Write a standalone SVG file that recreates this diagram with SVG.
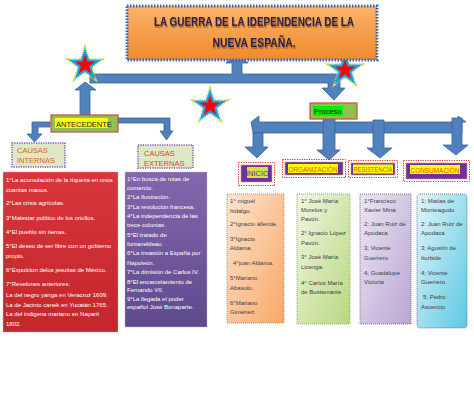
<svg xmlns="http://www.w3.org/2000/svg" width="474" height="420" viewBox="0 0 474 420">
<defs>
<linearGradient id="gTitle" x1="0" y1="0" x2="0" y2="1"><stop offset="0" stop-color="#fbb36a"/><stop offset="1" stop-color="#f08a2c"/></linearGradient>
<linearGradient id="gRed" x1="0" y1="0" x2="0" y2="1"><stop offset="0" stop-color="#d8363b"/><stop offset="1" stop-color="#c3262b"/></linearGradient>
<linearGradient id="gPur" x1="0" y1="0" x2="0" y2="1"><stop offset="0" stop-color="#8467ad"/><stop offset="1" stop-color="#5f4a8e"/></linearGradient>
<linearGradient id="gOr" x1="0" y1="0" x2="1" y2="1"><stop offset="0" stop-color="#fde4cf"/><stop offset="1" stop-color="#f9a865"/></linearGradient>
<linearGradient id="gGr" x1="0" y1="0" x2="1" y2="1"><stop offset="0" stop-color="#f0f6e2"/><stop offset="1" stop-color="#b8d880"/></linearGradient>
<linearGradient id="gLav" x1="0" y1="0" x2="1" y2="1"><stop offset="0" stop-color="#ece6f3"/><stop offset="1" stop-color="#b9a6d3"/></linearGradient>
<linearGradient id="gCy" x1="0" y1="0" x2="1" y2="1"><stop offset="0" stop-color="#e2f5fa"/><stop offset="1" stop-color="#5cc8e3"/></linearGradient>
<filter id="shadow" x="-10%" y="-30%" width="120%" height="170%">
<feDropShadow dx="0.6" dy="1.8" stdDeviation="0.4" flood-color="#7a4a20" flood-opacity="0.7"/>
</filter>
<g id="star">
<polygon points="0,-17 4,-5.5 16.2,-5.3 6.5,2.1 10,13.8 0,6.8 -10,13.8 -6.5,2.1 -16.2,-5.3 -4,-5.5" fill="none" stroke="#c6de5a" stroke-width="3" stroke-dasharray="1 1.2"/>
<polygon points="0,-14 3.29,-4.53 13.31,-4.33 5.33,1.73 8.23,11.33 0,5.6 -8.23,11.33 -5.33,1.73 -13.31,-4.33 -3.29,-4.53" fill="#ff0000" stroke="#1ea0e6" stroke-width="2.2" stroke-linejoin="miter"/>
</g>
</defs>
<style>
.arr{fill:#4f81bd;stroke:#3a6496;stroke-width:0.8}
.w{font-family:"Liberation Sans",Arial,sans-serif;font-size:6px;fill:#ffffff}
.d{font-family:"Liberation Sans",Arial,sans-serif;font-size:6px;fill:#404040}
.lab{font-family:"Liberation Sans",Arial,sans-serif;font-size:7.5px}
.dot{fill:none;stroke-dasharray:1.2 1.2}
.ttl{font-family:"Liberation Sans",Arial,sans-serif;font-weight:bold;font-size:13px;fill:#22204a}
</style>

<g id="connectors">
<polygon class="arr" points="90,74 232,74 232,63 226,63 237,54 248,63 242,63 242,74 340,74 340,88 345,88 334,100 322,88 328,88 328,83 90,83"/>
<polygon class="arr" points="80,115 80,90 75,90 85,82 96,90 90,90 90,115"/>
<polygon class="arr" points="50,122 32,122 32,134 27,134 34.5,142 42,134 38,134 38,127 50,127"/>
<polygon class="arr" points="118,118 170,118 170,131 173,131 166.5,140 160,131 164,131 164,123 118,123"/>
<polygon class="arr" points="251,122 259,116 259,122 458,122 458,116 466,122 462,122 462,133 253,133"/>
<polygon class="arr" points="253,133 263,133 263,147 268,147 257,158 245,147 253,147"/>
<polygon class="arr" points="323,115 335,115 335,150 340,150 329,160 317,150 323,150"/>
<polygon class="arr" points="373,120 384,120 384,148 392,148 380,158 367,148 373,148"/>
<polygon class="arr" points="452,118 462,118 462,145 468,145 456,155 443,145 452,145"/>
</g>

<g id="stars">
<use href="#star" transform="translate(85,65)"/>
<use href="#star" transform="translate(345,70)"/>
<use href="#star" transform="translate(210,106)"/>
</g>

<g id="title">
<rect x="127" y="6" width="250" height="54" fill="url(#gTitle)" stroke="#3c64b4" stroke-width="3" stroke-dasharray="1.5 1.5"/>
<text x="254" y="26" text-anchor="middle" class="ttl" filter="url(#shadow)" textLength="200" lengthAdjust="spacingAndGlyphs">LA GUERRA DE LA IDEPENDENCIA DE LA</text>
<text x="254" y="47" text-anchor="middle" class="ttl" filter="url(#shadow)" textLength="83" lengthAdjust="spacingAndGlyphs">NUEVA ESPAÑA.</text>
</g>

<g id="antecedente">
<rect x="51" y="115" width="67" height="17" fill="#92c050" stroke="#c0504d" stroke-width="1.2"/>
<rect x="55" y="118" width="53" height="10" fill="#ffff00"/>
<text x="56" y="126.5" class="lab" fill="#1a1a1a">ANTECEDENTE</text>
</g>

<g id="causas-internas">
<rect x="12" y="143" width="53" height="24" fill="#dfe8c5" stroke="#8050c0" stroke-width="1.5" stroke-dasharray="1.2 1.2"/>
<text x="17" y="153" class="lab" font-size="7" fill="#d8641e">CAUSAS</text>
<text x="17" y="163" class="lab" font-size="7" fill="#d8641e">INTERNAS</text>
</g>

<g id="causas-externas">
<rect x="138" y="145" width="55" height="23" fill="#dfe8c5" stroke="#8050c0" stroke-width="1.5" stroke-dasharray="1.2 1.2"/>
<text x="144" y="156" class="lab" font-size="7" fill="#e0402a">CAUSAS</text>
<text x="144" y="166" class="lab" font-size="7" fill="#e0402a">EXTERNAS</text>
</g>

<g id="internas-list">
<rect x="3" y="172" width="115" height="160" fill="url(#gRed)" stroke="#bbbbbb" stroke-width="0.8" stroke-dasharray="1 1"/>
<text class="w" x="6" y="182">1°La acumulación de la riqueza en unos</text>
<text class="w" x="6" y="192">cuantas manos.</text>
<text class="w" x="6" y="205">2°Las crisis agrícolas.</text>
<text class="w" x="6" y="220">3°Malestar político de los criollos.</text>
<text class="w" x="6" y="234">4°El pueblo sin tierras.</text>
<text class="w" x="6" y="248">5°El deseo de ser libre con un gobierno</text>
<text class="w" x="6" y="258">propio.</text>
<text class="w" x="6" y="272">6°Expulcion delos jesuitas de México.</text>
<text class="w" x="6" y="286">7°Revelones anteriores:</text>
<text class="w" x="6" y="297">La del negro yanga en Veracruz 1609.</text>
<text class="w" x="6" y="307">La de Jacinto canek en Yucatán 1765.</text>
<text class="w" x="6" y="316">La del indigena mariano en Nayarit</text>
<text class="w" x="6" y="326">1802.</text>
</g>

<g id="externas-list">
<rect x="125" y="172" width="82" height="155" fill="url(#gPur)" stroke="#bbbbbb" stroke-width="0.8" stroke-dasharray="1 1"/>
<text class="w" x="127" y="181">1°En busca de rutas de</text>
<text class="w" x="127" y="190">comercio.</text>
<text class="w" x="127" y="199">2°La Ilustración.</text>
<text class="w" x="127" y="209">3°La revolución francesa.</text>
<text class="w" x="127" y="218">4°La independencia de las</text>
<text class="w" x="127" y="227">trece colonias.</text>
<text class="w" x="127" y="237">5°El tratado de</text>
<text class="w" x="127" y="246">fontanebleau</text>
<text class="w" x="127" y="255">6°La invasión a España por</text>
<text class="w" x="127" y="265">Napoleón.</text>
<text class="w" x="127" y="274">7°La dimisión de Carlos IV.</text>
<text class="w" x="127" y="284">8°El encarcelamiento de</text>
<text class="w" x="127" y="292">Fernando VII.</text>
<text class="w" x="127" y="301">9°La llegada el poder</text>
<text class="w" x="127" y="309">español José Bonaparte.</text>
</g>

<g id="proceso">
<rect x="310" y="103" width="47" height="16" fill="#92c050" stroke="#c0504d" stroke-width="1.2"/>
<rect x="313" y="106" width="30" height="10" fill="#00ee00"/>
<text x="314" y="114" class="lab" fill="#1a1a1a">Proceso</text>
</g>

<g id="inicio">
<rect x="238.5" y="162.5" width="36" height="23" class="dot" stroke="#d03030" stroke-width="1"/>
<rect x="241" y="165" width="31" height="17" fill="#7030a0" stroke="#caa050" stroke-width="0.6"/>
<rect x="247" y="167" width="21" height="11" fill="#d8e040"/>
<text x="257.5" y="175.5" text-anchor="middle" class="lab" fill="#3a3a8a">INICIO</text>
</g>

<g id="organizacion">
<rect x="282.5" y="159.5" width="63" height="18" class="dot" stroke="#d03030" stroke-width="1"/>
<rect x="285" y="162" width="58" height="13" fill="#7030a0" stroke="#caa050" stroke-width="0.6"/>
<rect x="288" y="164" width="50" height="9" fill="#ffff00"/>
<text x="313" y="171.5" text-anchor="middle" class="lab" font-size="7" fill="#e8501e" textLength="49" lengthAdjust="spacingAndGlyphs">ORGANIZACIÓN</text>
</g>

<g id="resistencia">
<rect x="348.5" y="160.5" width="49" height="17" class="dot" stroke="#d03030" stroke-width="1"/>
<rect x="351" y="163" width="44" height="12" fill="#7030a0" stroke="#caa050" stroke-width="0.6"/>
<rect x="353" y="164.5" width="40" height="9" fill="#ffff00"/>
<text x="373" y="172" text-anchor="middle" class="lab" font-size="7" fill="#e8501e" textLength="39" lengthAdjust="spacingAndGlyphs">RESISTENCIA</text>
</g>

<g id="consumacion">
<rect x="403.5" y="160.5" width="66" height="21" class="dot" stroke="#d03030" stroke-width="1"/>
<rect x="406" y="163" width="61" height="16" fill="#7030a0" stroke="#caa050" stroke-width="0.6"/>
<rect x="410" y="165" width="50" height="9" fill="#ffff00"/>
<text x="435" y="172.5" text-anchor="middle" class="lab" font-size="7" fill="#e8501e" textLength="49" lengthAdjust="spacingAndGlyphs">CONSUMACIÓN</text>
</g>

<g id="inicio-list">
<rect x="227" y="194" width="57" height="129" fill="url(#gOr)" stroke="#a08060" stroke-width="0.8" stroke-dasharray="1 1"/>
<text class="d" x="230" y="203">1° miguel</text>
<text class="d" x="230" y="213">hidalgo.</text>
<text class="d" x="230" y="226">2°Ignacio allende.</text>
<text class="d" x="230" y="241">3°Ignacio</text>
<text class="d" x="230" y="250">Aldama.</text>
<text class="d" x="233" y="265">4°juan Aldama.</text>
<text class="d" x="230" y="280">5°Mariano</text>
<text class="d" x="230" y="290">Abasolo.</text>
<text class="d" x="230" y="305">6°Mariano</text>
<text class="d" x="230" y="314">Giménez.</text>
</g>

<g id="organizacion-list">
<rect x="297" y="194" width="53" height="130" fill="url(#gGr)" stroke="#80a040" stroke-width="0.8" stroke-dasharray="1 1"/>
<text class="d" x="301" y="203">1° José María</text>
<text class="d" x="301" y="212">Morelos y</text>
<text class="d" x="301" y="221">Pavón.</text>
<text class="d" x="301" y="235">2° Ignacio López</text>
<text class="d" x="301" y="245">Pavón.</text>
<text class="d" x="301" y="259">3° José María</text>
<text class="d" x="301" y="269">Licenga.</text>
<text class="d" x="301" y="285">4° Carlos María</text>
<text class="d" x="301" y="294">de Bustamante</text>
</g>

<g id="resistencia-list">
<rect x="360" y="194" width="51" height="130" fill="url(#gLav)" stroke="#705090" stroke-width="0.8" stroke-dasharray="1 1"/>
<text class="d" x="364" y="203">1°Francisco</text>
<text class="d" x="364" y="212">Xavier Mina</text>
<text class="d" x="364" y="226">2; Juan Ruiz de</text>
<text class="d" x="364" y="235">Apodaca</text>
<text class="d" x="364" y="250">3; Vicente</text>
<text class="d" x="364" y="260">Guerrero</text>
<text class="d" x="364" y="275">4; Guadalupe</text>
<text class="d" x="364" y="284">Victoria</text>
</g>

<g id="consumacion-list">
<rect x="417" y="194" width="50" height="134" rx="3" fill="url(#gCy)" stroke="#406a80" stroke-width="0.8" stroke-dasharray="1 1"/>
<text class="d" x="421" y="203">1; Matías de</text>
<text class="d" x="421" y="212">Monteagudo</text>
<text class="d" x="421" y="226">2: Juan Ruiz de</text>
<text class="d" x="421" y="235">Apodaca</text>
<text class="d" x="421" y="250">3; Agustín de</text>
<text class="d" x="421" y="260">Iturbide</text>
<text class="d" x="421" y="275">4; Vicente</text>
<text class="d" x="421" y="284">Guerrero</text>
<text class="d" x="423" y="299">5; Pedro</text>
<text class="d" x="421" y="309">Ascencio</text>
</g>
</svg>
